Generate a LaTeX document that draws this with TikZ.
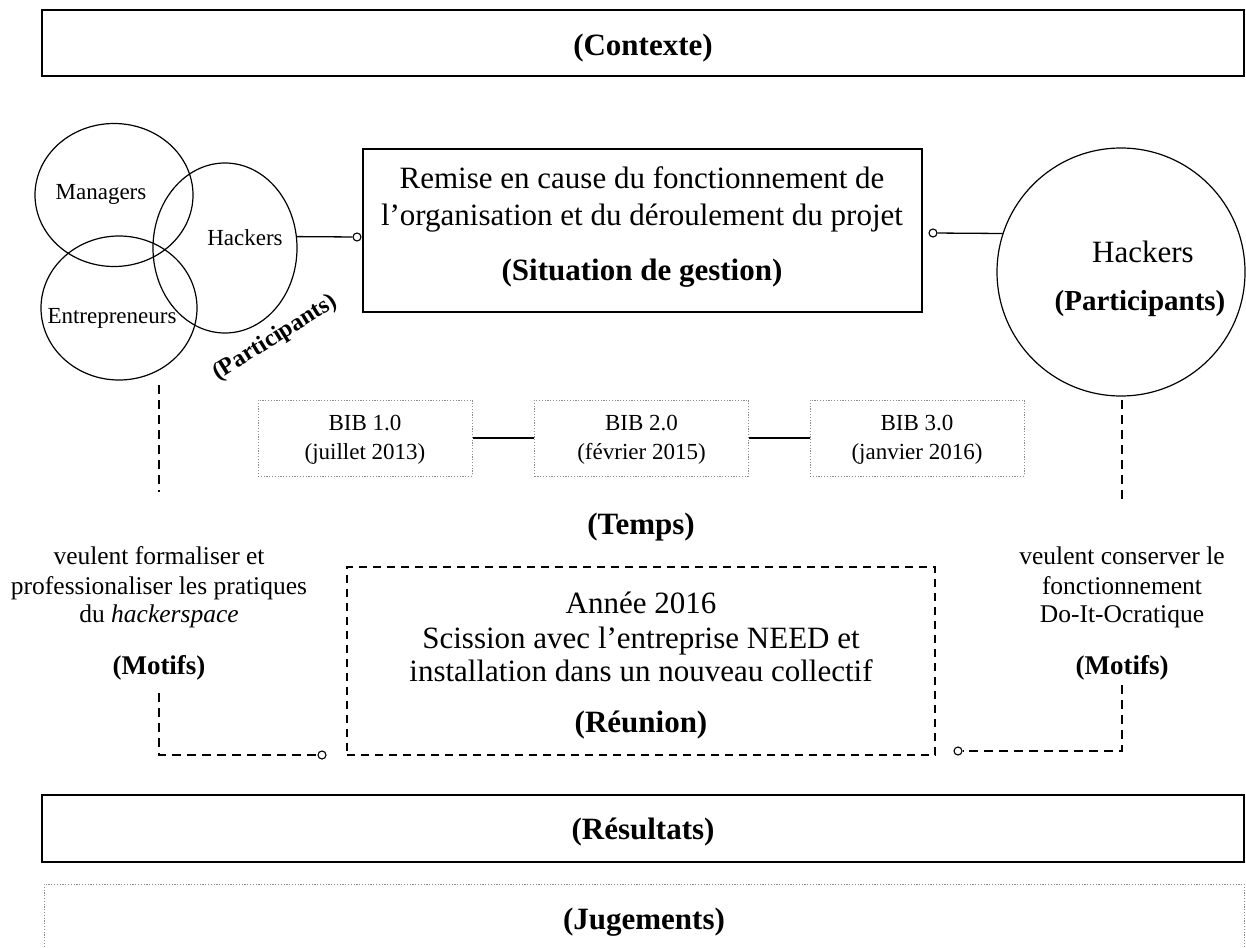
\documentclass[tikz,border=0pt]{standalone}
\usepackage{fontspec}
\setmainfont{Liberation Serif}
\usetikzlibrary{shapes.geometric}
\begin{document}
\begin{tikzpicture}[x=1pt,y=-1pt,
  txtbig/.style={anchor=base,font=\fontsize{31}{36}\selectfont},
  txtlbl/.style={anchor=base,font=\fontsize{31}{36}\selectfont\bfseries},
  txtmot/.style={anchor=base,font=\fontsize{27}{32}\selectfont\bfseries},
  txtsmall/.style={anchor=base,font=\fontsize{23}{27}\selectfont},
  txtside/.style={anchor=base,font=\fontsize{25.5}{30}\selectfont},
  thickbox/.style={draw,line width=2.7pt,inner sep=0pt},
  dotbox/.style={draw=gray!90,line width=1pt,dash pattern=on 1.2pt off 1.6pt,inner sep=0pt},
  dashbox/.style={draw,line width=1.2pt,dash pattern=on 8pt off 6pt,inner sep=0pt},
  circ/.style={draw,ellipse,line width=1.2pt,inner sep=0pt},
  conn/.style={line width=1.3pt},
  dconn/.style={line width=1.3pt,dash pattern=on 9pt off 6pt},
  term/.style={draw,circle,fill=white,line width=1.1pt,minimum size=8pt,inner sep=0pt}
]
\useasboundingbox (0,0) rectangle (1246,947);

% Contexte
\node[thickbox,minimum width=1202pt,minimum height=66pt] (ctx) at (643,43) {};
\node[txtlbl] (ctxt) at (643,56) {(Contexte)};

% Left participant circles
\node[circ,minimum width=158pt,minimum height=143pt] (mgr) at (114,195) {};
\node[circ,minimum width=144pt,minimum height=170pt] (hackC) at (225,248) {};
\node[circ,minimum width=156pt,minimum height=144pt] (ent) at (119,308) {};
\node[txtsmall] (mgrt) at (101,199) {Managers};
\node[txtsmall] (hackt) at (245,245) {Hackers};
\node[txtsmall] (entt) at (112,323) {Entrepreneurs};
\node[font=\fontsize{24}{28}\selectfont\bfseries,rotate=32] (partL) at (275,338) {(Participants)};

% Situation de gestion
\node[thickbox,minimum width=559pt,minimum height=163pt] (sit) at (642.5,230.5) {};
\node[txtbig] (sit1) at (642,188) {Remise en cause du fonctionnement de};
\node[txtbig] (sit2) at (642,225) {l’organisation et du déroulement du projet};
\node[txtlbl] (sit3) at (642,280) {(Situation de gestion)};

\node[term] (term1) at (357,237) {};
\draw[conn] (hackC.9) -- (term1);

% Right participant circle
\node[circ,minimum size=248pt] (bigC) at (1121,272) {};
\node[txtbig] (hackR) at (1143,262) {Hackers};
\node[anchor=base,font=\fontsize{29}{34}\selectfont\bfseries] (partR) at (1140,310) {(Participants)};
\node[term] (term2) at (933,233) {};
\draw[conn] (term2) -- (bigC.162);

% Temps
\node[dotbox,minimum width=214pt,minimum height=76pt] (bib1) at (365,438) {};
\node[dotbox,minimum width=214pt,minimum height=76pt] (bib2) at (641.5,438) {};
\node[dotbox,minimum width=214pt,minimum height=76pt] (bib3) at (917,438) {};
\node[txtsmall] (bib1a) at (365,430) {BIB 1.0};
\node[txtsmall] (bib1b) at (365,459) {(juillet 2013)};
\node[txtsmall] (bib2a) at (641.5,430) {BIB 2.0};
\node[txtsmall] (bib2b) at (641.5,459) {(février 2015)};
\node[txtsmall] (bib3a) at (917,430) {BIB 3.0};
\node[txtsmall] (bib3b) at (917,459) {(janvier 2016)};
\draw[conn] (bib1.east) -- (bib2.west);
\draw[conn] (bib2.east) -- (bib3.west);
\node[txtlbl] (temps) at (641,534) {(Temps)};

% Left motifs
\coordinate (l1) at (159,385);
\coordinate (l2) at (159,492);
\draw[dconn] (l1) -- (l2);
\node[txtside] (ml1) at (159,564) {veulent formaliser et};
\node[txtside] (ml2) at (159,594) {professionaliser les pratiques};
\node[txtside] (ml3) at (159,622) {du \textit{hackerspace}};
\node[txtmot] (motL) at (159,674) {(Motifs)};
\coordinate (l3) at (159,693);
\node[term] (term3) at (322,755) {};
\draw[dconn] (l3) |- (term3);

% Right motifs
\coordinate (r1) at (1122,400);
\coordinate (r2) at (1122,500);
\draw[dconn] (r1) -- (r2);
\node[txtside] (mr1) at (1122,564) {veulent conserver le};
\node[txtside] (mr2) at (1122,594) {fonctionnement};
\node[txtside] (mr3) at (1122,622) {Do-It-Ocratique};
\node[txtmot] (motR) at (1122,674) {(Motifs)};
\coordinate (r3) at (1122,685);
\node[term] (term4) at (958,751) {};
\draw[dconn] (r3) |- (term4);

% Reunion
\node[dashbox,minimum width=588pt,minimum height=188pt] (reu) at (641,661) {};
\node[txtbig] (reu1) at (641,613) {Année 2016};
\node[txtbig] (reu2) at (641,648) {Scission avec l’entreprise NEED et};
\node[txtbig] (reu3) at (641,681) {installation dans un nouveau collectif};
\node[txtlbl] (reu4) at (641,732) {(Réunion)};

% Resultats
\node[thickbox,minimum width=1202pt,minimum height=67pt] (res) at (643,828.5) {};
\node[txtlbl] (rest) at (643,839) {(Résultats)};

% Jugements
\node[dotbox,minimum width=1200pt,minimum height=92pt] (jug) at (644,930) {};
\node[txtlbl] (jugt) at (644,929) {(Jugements)};
\end{tikzpicture}
\end{document}
